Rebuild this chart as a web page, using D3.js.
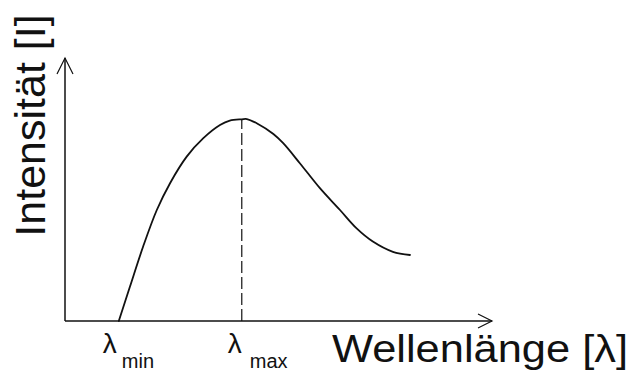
<!DOCTYPE html>
<html>
<head>
<meta charset="utf-8">
<script src="https://cdn.jsdelivr.net/npm/d3@7"></script>
<style>
  html, body { margin: 0; padding: 0; background: #fff; }
  svg { display: block; }
  text { font-family: "Liberation Sans", Arial, sans-serif; fill: #111; }
</style>
</head>
<body>
<svg id="chart" width="633" height="378"></svg>
<script>
// ---- data (arbitrary units: wavelength 0..100, intensity 0..100) ----
const wavelength = [12.6, 15.2, 18.3, 21.5, 24.6, 28.5, 32.4, 36.3, 38.6, 41.4, 42.6, 44.9, 48.8, 51.1, 55.0, 59.7, 64.4, 68.3, 72.1, 76.8, 80.8];
const intensity  = [0, 13.0, 28.3, 42.2, 52.4, 62.5, 69.5, 74.5, 76.2, 76.7, 76.8, 75.2, 71.1, 67.6, 60.0, 50.5, 42.2, 35.2, 30.2, 26.3, 25.1];
const tickValues = [12.6, 41.4];
const tickSubs   = ["min", "max"];
const xTitle = "Wellenlänge [λ]";
const yTitle = "Intensität [I]";
const lambdaMax = 41.4;
const peakIntensity = 76.7;

// ---- scales ----
const svg = d3.select("#chart");
const x = d3.scaleLinear().domain([0, 100]).range([65, 492]);
const y = d3.scaleLinear().domain([0, 100]).range([321, 58]);
const ink = "#111";

// ---- axes (lines with open arrowheads) ----
const axisG = svg.append("g").attr("stroke", ink).attr("fill", "none").attr("stroke-width", 1.5);
axisG.append("line").attr("x1", x(0)).attr("y1", y(0)).attr("x2", x(100)).attr("y2", y(0));
axisG.append("line").attr("x1", x(0)).attr("y1", y(0)).attr("x2", x(0)).attr("y2", y(100));
axisG.append("path").attr("stroke-width", 1.2)
  .attr("d", `M${x(100) - 14},${y(0) - 7} L${x(100)},${y(0)} L${x(100) - 14},${y(0) + 7}`);
axisG.append("path").attr("stroke-width", 1.2)
  .attr("d", `M${x(0) - 8},${y(100) + 16} L${x(0)},${y(100)} L${x(0) + 8},${y(100) + 16}`);

// ---- dashed line at lambda max ----
svg.append("line")
  .attr("x1", x(lambdaMax)).attr("x2", x(lambdaMax))
  .attr("y1", y(0)).attr("y2", y(peakIntensity))
  .attr("stroke", ink).attr("stroke-width", 1.2)
  .attr("stroke-dasharray", "12,4");

// ---- curve ----
const pts = wavelength.map((w, i) => [w, intensity[i]]);
const line = d3.line().x(d => x(d[0])).y(d => y(d[1])).curve(d3.curveCatmullRom.alpha(0.5));
svg.append("path").datum(pts)
  .attr("d", line)
  .attr("fill", "none").attr("stroke", ink).attr("stroke-width", 1.8)
  .attr("stroke-linejoin", "round").attr("stroke-linecap", "round");

// ---- tick labels (lambda with subscript) ----
tickValues.forEach((v, i) => {
  svg.append("text")
    .attr("x", x(v) - (i === 0 ? 2 : 0)).attr("y", 353)
    .attr("text-anchor", "end").attr("font-size", 28)
    .text("λ");
  svg.append("text")
    .attr("x", x(v) + (i === 0 ? 3 : 8)).attr("y", 368)
    .attr("font-size", 20)
    .text(tickSubs[i]);
});

// ---- axis titles ----
svg.append("text")
  .attr("x", 332).attr("y", 362)
  .attr("font-size", 38)
  .attr("textLength", 296).attr("lengthAdjust", "spacingAndGlyphs")
  .text(xTitle);

svg.append("text")
  .attr("transform", "translate(45,125.5) rotate(-90)")
  .attr("text-anchor", "middle")
  .attr("font-size", 43)
  .text(yTitle);
</script>
</body>
</html>
